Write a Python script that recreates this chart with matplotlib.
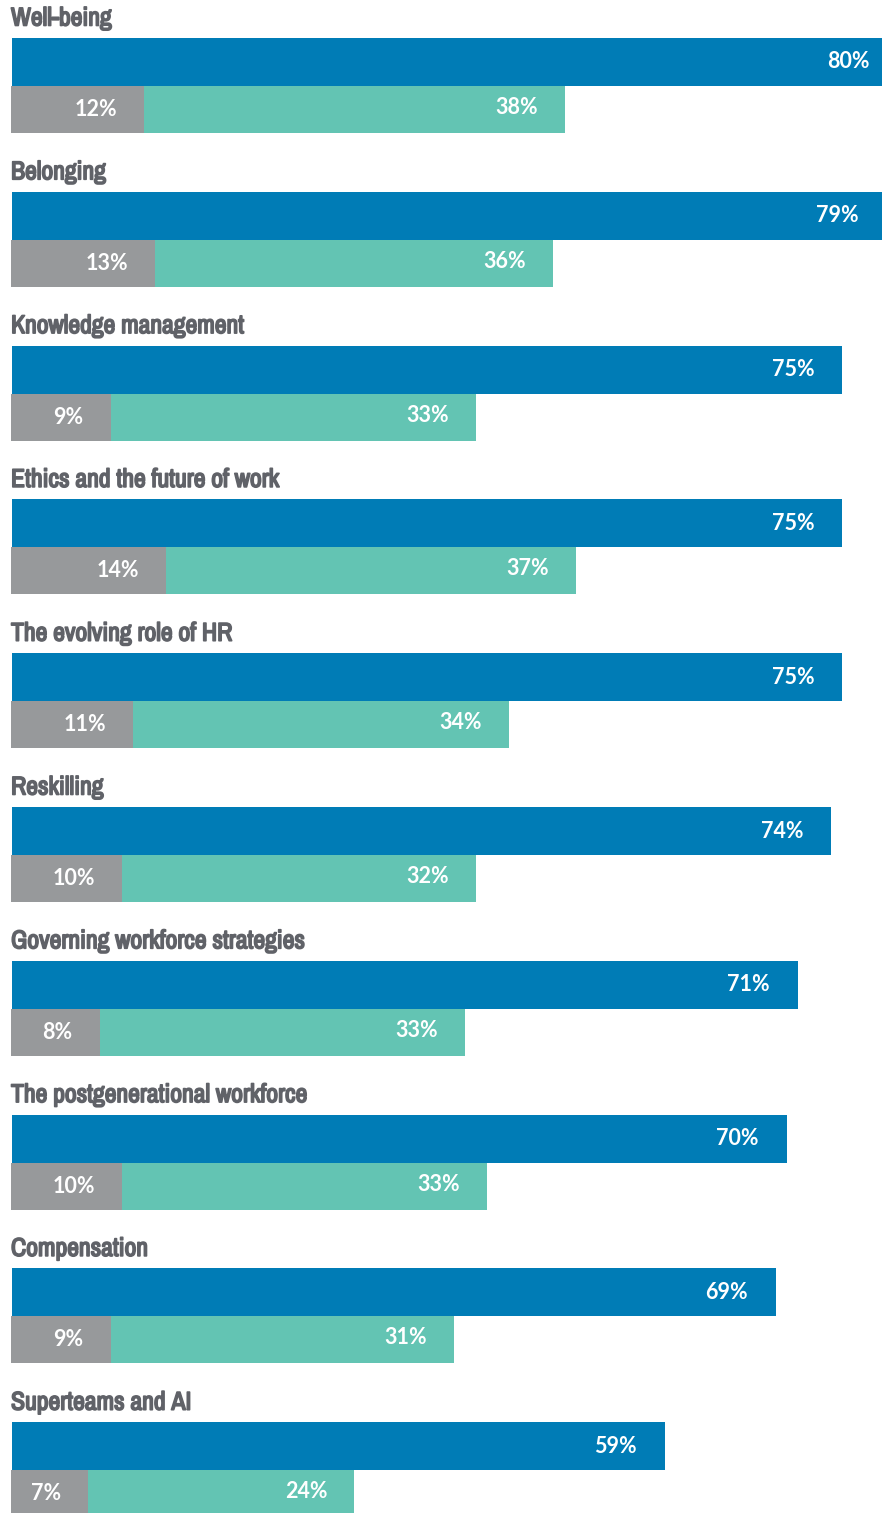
import matplotlib
matplotlib.use("Agg")
import matplotlib.pyplot as plt
import matplotlib.patheffects as pe

# data
categories = ["Well-being", "Belonging", "Knowledge management",
              "Ethics and the future of work", "The evolving role of HR",
              "Reskilling", "Governing workforce strategies",
              "The postgenerational workforce", "Compensation",
              "Superteams and AI"]
important = [80, 79, 75, 75, 75, 74, 71, 70, 69, 59]
very_ready = [12, 13, 9, 14, 11, 10, 8, 10, 9, 7]
ready = [38, 36, 33, 37, 34, 32, 33, 33, 31, 24]

BLUE = "#007cb6"
GREY = "#97999b"
TEAL = "#63c4b3"
TITLE = "#606268"

W, H = 882, 1513
fig = plt.figure(figsize=(W / 100, H / 100), dpi=100)
ax = fig.add_axes([0, 0, 1, 1])

px_per_pct = 11.07
x0 = 11
ax.set_xlim(-x0 / px_per_pct, (W - x0) / px_per_pct)
ax.set_ylim(H, 0)
ax.axis("off")

step = 153.8
bar_h = 48
pad = 27 / px_per_pct
val_font = dict(family=["Lato", "DejaVu Sans"], fontsize=15.5,
                fontweight="bold", color="white", ha="right", va="center")
title_fx = [pe.withStroke(linewidth=1.2, foreground=TITLE)]

for i, cat in enumerate(categories):
    top = 38 + step * i
    ax.text(0, top - 20, cat, family=["Archivo Narrow", "DejaVu Sans"],
            fontsize=18.5, color=TITLE, va="center", ha="left",
            path_effects=title_fx)
    ax.barh(top + bar_h / 2, important[i], height=bar_h, left=0.1,
            color=BLUE, linewidth=0)
    ax.text(important[i] - pad, top + bar_h / 2, f"{important[i]}%", **val_font)

    y2 = top + bar_h + 23.5
    ax.barh(y2, very_ready[i], height=47, left=0, color=GREY, linewidth=0)
    ax.barh(y2, ready[i], height=47, left=very_ready[i], color=TEAL, linewidth=0)
    ax.text(very_ready[i] - pad, y2, f"{very_ready[i]}%", **val_font)
    tot = very_ready[i] + ready[i]
    ax.text(tot - pad, y2 - 2, f"{ready[i]}%", **val_font)

fig.savefig("out.png", dpi=100, facecolor="white")
